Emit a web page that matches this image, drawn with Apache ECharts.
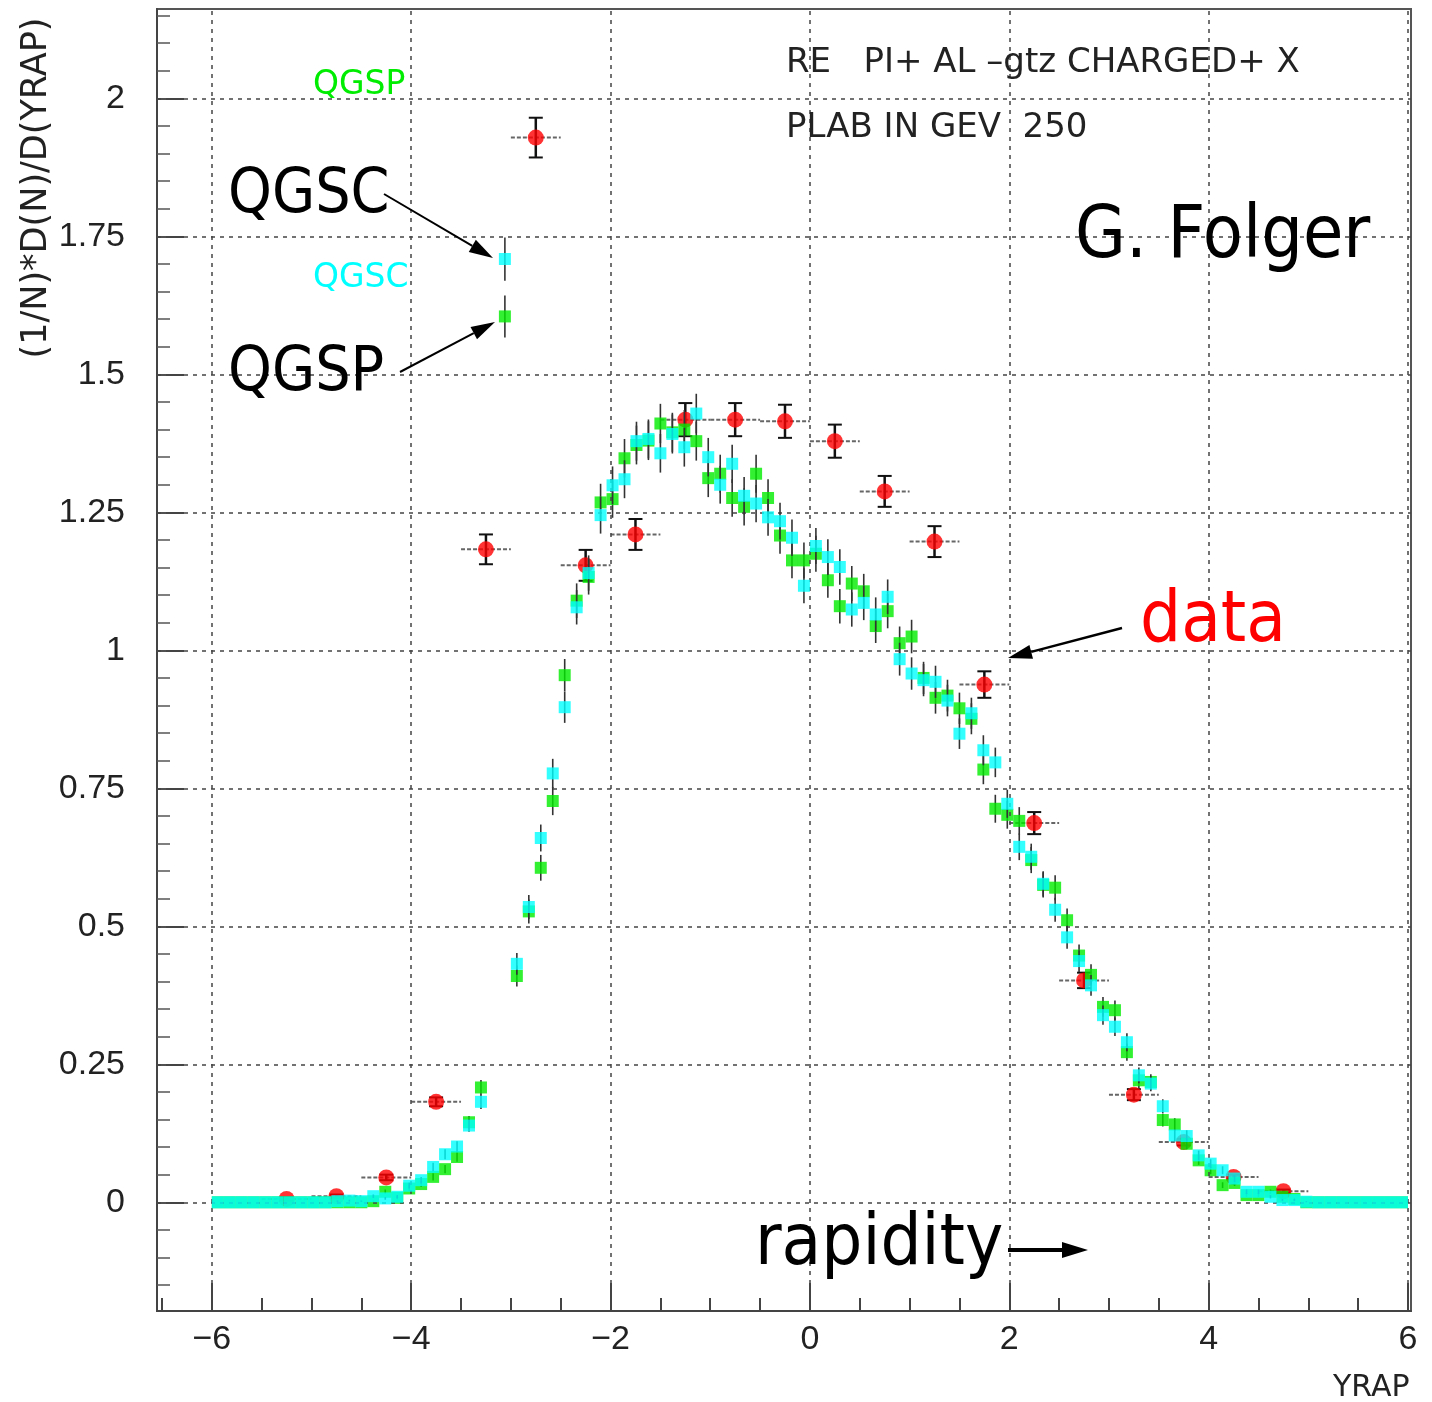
<!DOCTYPE html>
<html><head><meta charset="utf-8">
<script src="https://cdn.jsdelivr.net/npm/echarts@6/dist/echarts.min.js"></script>
<style>html,body{margin:0;padding:0;background:#fff}#c{width:1432px;height:1402px}</style>
</head><body><div id="c"></div>
<script>
// ---------- data ----------
const dataX = [-5.25,-4.75,-4.25,-3.75,-3.25,-2.75,-2.25,-1.75,-1.25,-0.75,-0.25,0.25,0.75,1.25,1.75,2.25,2.75,3.25,3.75,4.25,4.75];
const dataY = [0.006,0.011,0.045,0.182,1.183,1.929,1.154,1.210,1.418,1.418,1.415,1.379,1.288,1.197,0.938,0.687,0.402,0.195,0.109,0.046,0.020];
const dataErr = [0.003,0.003,0.005,0.008,0.027,0.036,0.028,0.028,0.030,0.030,0.030,0.030,0.028,0.028,0.024,0.020,0.014,0.010,0.006,0.004,0.003];
const dataHalfBin = 0.25;

// model histograms: 100 bins from -6 to 6
const binLow = -6, binWidth = 0.12;
const qgspY = [0,0,0,0,0,0,0,0,0,0,0,0,0,
  0.002,0.019,0.008,0.025,0.033,0.046,0.060,0.082,0.145,0.208,
  null,
  1.605,0.410,0.527,0.606,0.727,0.955,1.090,1.133,1.268,1.274,1.348,1.372,1.380,1.411,1.395,1.400,
  1.379,1.312,1.320,1.276,1.260,1.320,1.276,1.208,1.163,1.163,1.175,1.127,1.080,1.121,1.107,1.044,
  1.071,1.013,1.025,0.950,0.914,0.918,0.895,0.876,0.784,0.713,0.702,0.691,0.620,0.575,0.570,0.511,
  0.447,0.412,0.354,0.348,0.272,0.221,0.218,0.149,0.141,0.106,0.076,0.058,0.031,0.035,0.013,0.013,
  0.019,0.010,0.006,
  0,0,0,0,0,0,0,0,0];
const qgscY = [0,0,0,0,0,0,0,0,0,0,
  0.002,0.003,0.002,0.011,0.007,0.010,0.030,0.040,0.064,0.087,0.101,0.139,0.182,
  null,
  1.709,0.432,0.535,0.660,0.777,0.897,1.078,1.140,1.245,1.299,1.310,1.379,1.383,1.357,1.392,1.368,
  1.429,1.350,1.300,1.338,1.280,1.266,1.241,1.234,1.204,1.117,1.189,1.169,1.151,1.074,1.086,1.065,
  1.097,0.984,0.958,0.946,0.943,0.909,0.849,0.886,0.819,0.797,0.722,0.644,0.626,0.577,0.530,0.480,
  0.437,0.393,0.339,0.318,0.290,0.230,0.215,0.174,0.121,0.120,0.085,0.070,0.058,0.043,0.019,0.019,
  0.010,0.004,0.004,0.001,
  0,0,0,0,0,0,0,0];
const modelErrCoef = 0.03; // statistical error ~ coef*sqrt(value)

// axes / ticks
const xMin = -6.55, xMax = 6.03, yMin = -0.197, yMax = 2.162;
const xMajorTicks = [-6,-4,-2,0,2,4,6];
const xMinorTicks = [-6.5,-6,-5.5,-5,-4.5,-4,-3.5,-3,-2.5,-2,-1.5,-1,-0.5,0,0.5,1,1.5,2,2.5,3,3.5,4,4.5,5,5.5,6];
const yMajorTicks = [0,0.25,0.5,0.75,1,1.25,1.5,1.75,2];
const yMinorTicks = [];
for (let k = -3; k <= 43; k++) yMinorTicks.push(+(k*0.05).toFixed(2));

// ---------- build ----------
const modelPts = (arr) => arr.map((v,i) => v == null ? null : [+(binLow + binWidth*(i+0.5)).toFixed(3), v, modelErrCoef*Math.sqrt(Math.max(v,0))]).filter(p => p);
const greenPts = modelPts(qgspY);
const cyanPts = modelPts(qgscY);
const redPts = dataX.map((x,i) => [x, dataY[i], dataErr[i]]);

const GREEN = '#00ec00', CYAN = '#00ffff', RED = '#ff0000';

function modelBars(params, api) {
  const x = api.value(0), y = api.value(1), e = api.value(2);
  const t = api.coord([x, y+e]), b = api.coord([x, y-e]);
  return {type:'line', shape:{x1:t[0],y1:t[1],x2:b[0],y2:b[1]}, style:{stroke:'#333', lineWidth:1.6}};
}
function dataBars(params, api) {
  const x = api.value(0), y = api.value(1), e = api.value(2);
  const t = api.coord([x, y+e]), b = api.coord([x, y-e]);
  const l = api.coord([x-dataHalfBin, y]), r = api.coord([x+dataHalfBin, y]);
  return {type:'group', children:[
    {type:'line', shape:{x1:l[0],y1:l[1],x2:r[0],y2:r[1]}, style:{stroke:'#666', lineWidth:2, lineDash:[4,2]}},
    {type:'line', shape:{x1:t[0],y1:t[1],x2:b[0],y2:b[1]}, style:{stroke:'#111', lineWidth:2.5}},
    {type:'line', shape:{x1:t[0]-7,y1:t[1],x2:t[0]+7,y2:t[1]}, style:{stroke:'#111', lineWidth:2}},
    {type:'line', shape:{x1:b[0]-7,y1:b[1],x2:b[0]+7,y2:b[1]}, style:{stroke:'#111', lineWidth:2}}
  ]};
}

function arrow(x1,y1,x2,y2,w,hl,hw) {
  const a = Math.atan2(y2-y1, x2-x1);
  const bx = x2 - hl*Math.cos(a), by = y2 - hl*Math.sin(a);
  const px = -Math.sin(a)*hw/2, py = Math.cos(a)*hw/2;
  return [
    {type:'line', shape:{x1:x1,y1:y1,x2:bx,y2:by}, style:{stroke:'#000', lineWidth:w}, z:100},
    {type:'polygon', shape:{points:[[x2,y2],[bx+px,by+py],[bx-px,by-py]]}, style:{fill:'#000'}, z:100}
  ];
}
const hershey = '"DejaVu Sans", sans-serif';
const annot = '"DejaVu Sans Condensed", "DejaVu Sans", sans-serif';
function txt(s, x, y, size, fam, fill, align, rot) {
  return {type:'text', x:x, y:y, z:100, rotation: rot || 0,
    style:{text:s, font: size+'px '+fam, fill:fill, align: align || 'left', verticalAlign:'middle'}};
}

const gridMarks = xMajorTicks.map(v => ({xAxis:v})).concat(yMajorTicks.map(v => ({yAxis:v})));
const tickFont = '"Liberation Sans", sans-serif';

const option = {
  animation: false,
  backgroundColor: '#fff',
  grid: {left:157, right:21, top:9, bottom:91, show:true, borderColor:'#555', borderWidth:2, containLabel:false},
  xAxis: [
    {type:'value', min:xMin, max:xMax, position:'bottom',
     axisLine:{show:true, onZero:false, lineStyle:{color:'#444', width:2}},
     axisTick:{show:true, inside:true, length:28, customValues:xMajorTicks, lineStyle:{color:'#444', width:2}},
     axisLabel:{show:true, customValues:xMajorTicks, margin:12, color:'#222', fontSize:34, fontFamily:tickFont,
       formatter:(v)=> String(v).replace('-', '\u2212')},
     splitLine:{show:false}},
    {type:'value', min:xMin, max:xMax, position:'bottom',
     axisLine:{show:false, onZero:false},
     axisTick:{show:true, inside:true, length:13, customValues:xMinorTicks, lineStyle:{color:'#444', width:2}},
     axisLabel:{show:false}, splitLine:{show:false}}
  ],
  yAxis: [
    {type:'value', min:yMin, max:yMax, position:'left',
     axisLine:{show:true, onZero:false, lineStyle:{color:'#444', width:2}},
     axisTick:{show:true, inside:true, length:27, customValues:yMajorTicks, lineStyle:{color:'#444', width:2}},
     axisLabel:{show:true, customValues:yMajorTicks, margin:32, color:'#222', fontSize:34, fontFamily:tickFont},
     splitLine:{show:false}},
    {type:'value', min:yMin, max:yMax, position:'left',
     axisLine:{show:false, onZero:false},
     axisTick:{show:true, inside:true, length:13, customValues:yMinorTicks, lineStyle:{color:'#555', width:1.5}},
     axisLabel:{show:false}, splitLine:{show:false}}
  ],
  series: [
    {type:'line', data:[], silent:true,
     markLine:{silent:true, symbol:['none','none'], animation:false, label:{show:false},
       lineStyle:{color:'#444', width:1.5, type:[4,5]}, emphasis:{disabled:true}, data:gridMarks}, z:1},
    {type:'scatter', name:'data', data:redPts, symbol:'circle', symbolSize:16, itemStyle:{color:RED}, z:3, silent:true},
    {type:'custom', data:redPts, renderItem:dataBars, z:2, silent:true},
    {type:'scatter', name:'QGSP', data:greenPts, symbol:'rect', symbolSize:[12,12], itemStyle:{color:GREEN}, z:4, silent:true},
    {type:'custom', data:greenPts, renderItem:modelBars, z:4, silent:true},
    {type:'scatter', name:'QGSC', data:cyanPts, symbol:'rect', symbolSize:[12,12], itemStyle:{color:CYAN}, z:5, silent:true},
    {type:'custom', data:cyanPts, renderItem:modelBars, z:5, silent:true}
  ],
  graphic: {elements: [
    txt('(1/N)*D(N)/D(YRAP)', 37, 188, 35, hershey, '#222', 'center', Math.PI/2),
    txt('YRAP', 1333, 1388, 30, hershey, '#222'),
    txt('RE   PI+ AL \u2013gtz CHARGED+ X', 786, 63, 34, hershey, '#222'),
    txt('PLAB IN GEV  250', 786, 128, 34, hershey, '#222'),
    txt('QGSP', 313, 85, 33, hershey, GREEN),
    txt('QGSC', 313, 278, 33, hershey, CYAN),
    txt('QGSC', 228, 196, 62, annot, '#000'),
    txt('QGSP', 228, 374, 62, annot, '#000'),
    txt('G. Folger', 1075, 238, 73, annot, '#000'),
    txt('data', 1140, 622, 72, annot, RED),
    txt('rapidity', 755, 1245, 72, annot, '#000')
  ].concat(arrow(384,194,493,258,2,24,14))
   .concat(arrow(400,372,495,322,2,24,14))
   .concat(arrow(1122,628,1008,658,2.5,24,14))
   .concat(arrow(1008,1250,1088,1250,4,26,16))}
};

const chart = echarts.init(document.getElementById('c'), null, {renderer:'canvas'});
chart.setOption(option);
</script>
</body></html>
